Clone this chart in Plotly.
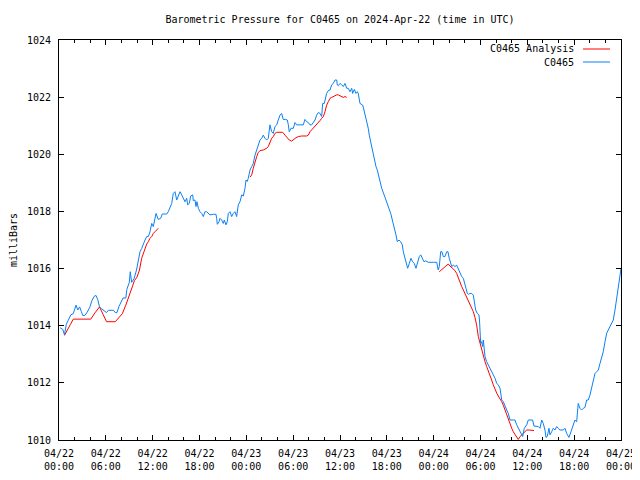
import pandas as pd
import plotly.graph_objects as go

# ---- data (hours since 2024-04-22 00:00 UTC, pressure in mb) ----
obs_hours = [0.13, 0.49, 0.70, 0.94, 1.15, 1.51, 1.83, 2.05, 2.18, 2.41, 2.64, 2.86, 3.04, 3.31, 3.63, 3.97,
             4.20, 4.52, 4.74, 4.97, 5.19, 5.42, 5.76, 6.09, 6.32, 6.98, 7.21, 7.43, 7.66, 7.97, 8.20, 8.56,
             8.69, 9.01, 9.13, 9.31, 9.61, 9.93, 10.18, 10.38, 10.59, 10.80, 11.02, 11.24, 11.44, 11.66, 11.88,
             12.08, 12.30, 12.43, 12.72, 13.03, 13.23, 13.80, 14.00, 14.22, 14.44, 14.64, 14.86, 15.08, 15.28,
             15.50, 15.72, 15.92, 16.14, 16.36, 16.49, 16.69, 16.87, 17.13, 17.20, 17.42, 17.55, 17.68, 17.85,
             18.06, 18.28, 18.49, 18.70, 18.92, 19.13, 19.34, 19.77, 20.11, 20.20, 20.28, 20.50, 20.63, 20.84,
             21.05, 21.18, 21.39, 21.56, 21.69, 21.91, 22.12, 22.33, 22.55, 22.76, 22.97, 23.19, 23.41, 23.61,
             23.83, 23.96, 24.12, 24.25, 24.47, 24.69, 24.89, 25.11, 25.33, 25.53, 25.75, 25.97, 26.17, 26.39,
             26.61, 26.81, 27.03, 27.25, 27.45, 27.67, 27.89, 28.09, 28.31, 28.53, 28.73, 28.99, 29.25, 29.38,
             29.50, 29.72, 30.02, 30.23, 30.45, 30.87, 31.30, 31.51, 31.73, 31.94, 32.16, 32.37, 32.58, 32.80,
             33.01, 33.22, 33.44, 33.65, 33.78, 33.99, 34.29, 34.50, 34.72, 34.93, 35.14, 35.36, 35.58, 35.65,
             35.78, 36.00, 36.22, 36.42, 36.64, 36.86, 37.06, 37.28, 37.50, 37.62, 37.83, 38.05, 38.22, 38.34,
             38.56, 38.91, 39.07, 39.29, 39.42, 39.62, 39.75, 39.93, 40.06, 40.26, 40.39, 40.61, 40.78, 40.99,
             41.12, 41.34, 41.76, 42.15, 42.53, 42.79, 43.04, 43.17, 43.34, 43.56, 43.77, 43.98, 44.11, 44.33,
             44.54, 44.67, 44.88, 45.09, 45.31, 45.52, 45.73, 45.95, 46.16, 46.34, 46.54, 46.76, 46.98, 47.31,
             47.95, 48.39, 48.59, 48.72, 48.90, 49.06, 49.23, 49.45, 49.67, 49.83, 50.00, 50.18, 50.31, 50.51,
             50.73, 50.95, 51.15, 51.37, 51.59, 51.80, 51.92, 52.14, 52.31, 52.44, 52.65, 52.87, 53.08, 53.20,
             53.38, 53.59, 53.80, 53.87, 53.93, 54.02, 54.15, 54.28, 54.36, 54.45, 54.58, 54.79, 55.00, 55.21,
             55.43, 55.64, 55.86, 56.08, 56.28, 56.50, 56.72, 56.92, 57.14, 57.36, 57.56, 57.78, 58.20, 58.42,
             58.64, 58.84, 59.06, 59.28, 59.40, 59.61, 59.92, 60.12, 60.68, 60.85, 61.11, 61.40, 61.62, 61.84,
             62.04, 62.26, 62.39, 62.55, 62.77, 62.90, 63.12, 63.32, 63.54, 63.76, 63.96, 64.18, 64.60, 64.82,
             65.04, 65.33, 65.59, 65.89, 66.10, 66.32, 66.52, 66.74, 66.96, 67.17, 67.38, 67.60, 67.81, 68.02,
             68.24, 68.45, 68.67, 68.89, 69.09, 69.31, 69.53, 69.73, 69.95, 70.17, 70.37, 70.59, 70.80, 71.01,
             71.23, 71.49, 71.75, 72.00]
obs_mb = [1013.93, 1013.87, 1013.68, 1014.05, 1014.17, 1014.38, 1014.42, 1014.60, 1014.72, 1014.55, 1014.66,
          1014.50, 1014.36, 1014.36, 1014.48, 1014.66, 1014.87, 1015.03, 1015.06, 1014.91, 1014.66, 1014.60,
          1014.54, 1014.46, 1014.54, 1014.54, 1014.46, 1014.46, 1014.66, 1014.85, 1014.97, 1014.97, 1015.27,
          1015.52, 1015.89, 1015.52, 1015.64, 1015.95, 1016.25, 1016.59, 1016.70, 1016.88, 1017.00, 1017.12,
          1017.12, 1017.29, 1017.58, 1017.47, 1017.72, 1017.93, 1017.72, 1017.76, 1017.91, 1017.91, 1017.99,
          1018.17, 1018.28, 1018.63, 1018.69, 1018.40, 1018.58, 1018.69, 1018.58, 1018.46, 1018.34, 1018.46,
          1018.23, 1018.28, 1018.54, 1018.58, 1018.38, 1018.40, 1018.17, 1018.34, 1018.11, 1017.99, 1017.93,
          1017.82, 1017.99, 1017.99, 1017.93, 1017.88, 1017.90, 1017.90, 1017.76, 1017.55, 1017.64, 1017.76,
          1017.70, 1017.58, 1017.70, 1017.53, 1017.64, 1017.93, 1017.99, 1017.82, 1017.93, 1017.99, 1017.82,
          1018.23, 1018.34, 1018.58, 1018.54, 1018.81, 1019.10, 1019.05, 1019.16, 1019.45, 1019.57, 1019.68,
          1019.97, 1020.15, 1020.27, 1020.50, 1020.56, 1020.67, 1020.56, 1020.50, 1020.56, 1021.03, 1020.79,
          1020.73, 1020.97, 1021.03, 1021.20, 1021.37, 1021.43, 1021.22, 1021.22, 1021.20, 1021.03, 1020.79,
          1020.91, 1020.91, 1021.11, 1021.03, 1021.03, 1021.03, 1021.22, 1021.14, 1021.11, 1021.03, 1021.03,
          1021.14, 1021.20, 1021.37, 1021.46, 1021.43, 1021.32, 1021.78, 1021.78, 1022.13, 1022.23, 1022.25,
          1022.43, 1022.48, 1022.60, 1022.60, 1022.43, 1022.40, 1022.48, 1022.43, 1022.37, 1022.48, 1022.31,
          1022.31, 1022.19, 1022.31, 1022.13, 1022.27, 1022.13, 1022.19, 1022.13, 1021.78, 1021.72, 1021.55,
          1021.32, 1021.14, 1020.91, 1020.67, 1020.44, 1020.27, 1020.03, 1019.80, 1019.57, 1019.45, 1019.22,
          1018.98, 1018.81, 1018.50, 1018.20, 1017.90, 1017.60, 1017.35, 1017.18, 1016.94, 1017.00, 1016.94,
          1016.83, 1016.59, 1016.36, 1016.12, 1016.01, 1016.18, 1016.36, 1016.24, 1016.18, 1016.01, 1016.24,
          1016.42, 1016.48, 1016.36, 1016.24, 1016.27, 1016.22, 1016.22, 1016.22, 1015.95, 1016.07, 1016.59,
          1016.59, 1016.42, 1016.42, 1016.59, 1016.59, 1016.36, 1016.18, 1016.07, 1016.12, 1016.07, 1016.12,
          1016.01, 1015.83, 1015.72, 1015.66, 1015.49, 1015.31, 1015.13, 1015.10, 1015.13, 1015.13, 1015.07,
          1014.90, 1014.55, 1014.43, 1014.38, 1014.20, 1013.85, 1013.38, 1013.44, 1013.27, 1013.50, 1013.15,
          1012.92, 1012.74, 1012.63, 1012.51, 1012.39, 1012.33, 1012.16, 1011.98, 1011.93, 1011.81, 1011.40,
          1011.34, 1011.17, 1011.05, 1010.93, 1010.70, 1010.70, 1010.70, 1010.53, 1010.41, 1010.29, 1010.18,
          1010.12, 1010.41, 1010.53, 1010.70, 1010.70, 1010.49, 1010.47, 1010.47, 1010.41, 1010.70, 1010.58,
          1010.35, 1010.09, 1010.12, 1010.41, 1010.18, 1010.29, 1010.41, 1010.35, 1010.47, 1010.41, 1010.35,
          1010.35, 1010.41, 1010.23, 1010.09, 1010.29, 1010.53, 1010.70, 1010.64, 1011.28, 1011.11, 1011.05,
          1011.11, 1011.14, 1011.40, 1011.40, 1011.57, 1011.87, 1012.04, 1012.33, 1012.39, 1012.45, 1012.68,
          1012.92, 1013.09, 1013.44, 1013.74, 1013.85, 1013.97, 1014.08, 1014.20, 1014.55, 1015.07, 1015.60,
          1016.00]

ana1_hours = [0.70, 0.90, 1.15, 1.47, 1.83, 2.28, 4.07, 4.61, 5.19, 5.64, 6.09, 7.21, 7.69, 8.11, 8.56,
              9.01, 9.31, 9.67, 9.99, 10.31, 10.59, 10.80, 11.02, 11.24, 11.44, 11.66, 11.88, 12.08, 12.30,
              12.52, 12.72]
ana1_mb = [1013.66, 1013.75, 1013.87, 1014.05, 1014.23, 1014.23, 1014.23, 1014.45, 1014.66, 1014.40, 1014.14,
           1014.14, 1014.28, 1014.42, 1014.72, 1015.09, 1015.34, 1015.58, 1015.70, 1015.95, 1016.36, 1016.53,
           1016.71, 1016.86, 1016.94, 1017.06, 1017.12, 1017.23, 1017.29, 1017.35, 1017.41]

ana2_hours = [24.47, 24.69, 24.89, 25.11, 25.33, 25.53, 25.75, 26.17, 26.61, 26.81, 27.03, 27.25, 27.45,
              27.67, 27.89, 28.66, 28.95, 29.25, 29.50, 29.81, 30.02, 30.36, 30.66, 31.09, 31.73, 31.94,
              32.16, 32.37, 32.58, 32.80, 33.01, 33.22, 33.44, 33.65, 33.86, 34.08, 34.29, 34.50, 34.72,
              34.93, 35.14, 35.58, 35.78, 36.00, 36.22, 36.42, 36.64, 36.86]
ana2_mb = [1019.20, 1019.28, 1019.51, 1019.74, 1019.92, 1020.06, 1020.13, 1020.15, 1020.21, 1020.27, 1020.44,
           1020.56, 1020.62, 1020.73, 1020.77, 1020.77, 1020.67, 1020.56, 1020.50, 1020.46, 1020.52, 1020.58,
           1020.62, 1020.64, 1020.64, 1020.67, 1020.79, 1020.85, 1020.91, 1020.99, 1021.06, 1021.11, 1021.18,
           1021.26, 1021.32, 1021.49, 1021.72, 1021.84, 1021.96, 1021.99, 1022.02, 1022.08, 1022.08, 1022.04,
           1022.02, 1021.99, 1022.02, 1021.99]

ana3_hours = [48.72, 49.03, 49.45, 49.67, 49.87, 50.09, 50.31, 50.51, 50.73, 50.95, 51.15, 51.37, 51.59,
              51.80, 52.01, 52.23, 52.44, 52.65, 52.87, 53.08, 53.29, 53.51, 53.72, 53.93, 54.15, 54.36,
              54.58, 54.79, 55.00, 55.21, 55.43, 55.64, 55.86, 56.08, 56.28, 56.50, 56.72, 56.92, 57.14,
              57.36, 57.56, 57.78, 58.00, 58.20, 58.42, 58.64, 58.84, 59.06, 59.28, 59.48, 59.70, 59.92,
              60.25, 60.56, 60.85]
ana3_mb = [1015.89, 1015.97, 1016.07, 1016.12, 1016.16, 1016.09, 1016.04, 1016.01, 1015.93, 1015.83, 1015.66,
           1015.49, 1015.37, 1015.25, 1015.13, 1015.02, 1014.90, 1014.78, 1014.61, 1014.49, 1014.29, 1014.02,
           1013.62, 1013.38, 1013.21, 1012.97, 1012.74, 1012.57, 1012.39, 1012.22, 1012.10, 1011.93, 1011.75,
           1011.64, 1011.54, 1011.46, 1011.34, 1011.22, 1011.05, 1010.88, 1010.70, 1010.53, 1010.41, 1010.29,
           1010.18, 1010.09, 1010.02, 1010.12, 1010.18, 1010.23, 1010.29, 1010.35, 1010.35, 1010.33, 1010.33]

start_time = "2024-04-22 00:00"
end_time = "2024-04-25 00:00"
series_names = ["C0465 Analysis", "C0465"]
title_text = "Barometric Pressure for C0465 on 2024-Apr-22 (time in UTC)"
y_title = "milliBars"

# ---- build ----
base = pd.Timestamp(start_time)


def to_times(hours):
    return [base + pd.to_timedelta(h, unit="h") for h in hours]


ana_x, ana_y = [], []
for hs, vs in [(ana1_hours, ana1_mb), (ana2_hours, ana2_mb), (ana3_hours, ana3_mb)]:
    if ana_x:
        ana_x.append(None)
        ana_y.append(None)
    ana_x += to_times(hs)
    ana_y += vs

RED = "#ff0000"
BLUE = "#0a80f5"
FONT = "DejaVu Sans Mono"

# the page body has an 8px margin, so the figure is drawn at (8, 8)
W, HGT = 632, 464

fig = go.Figure()
fig.add_trace(go.Scatter(x=ana_x, y=ana_y, mode="lines", name=series_names[0],
                         line=dict(color=RED, width=1), connectgaps=False, showlegend=False))
fig.add_trace(go.Scatter(x=to_times(obs_hours), y=obs_mb, mode="lines", name=series_names[1],
                         line=dict(color=BLUE, width=1), showlegend=False))

H = 3600 * 1000
fig.update_layout(
    width=W, height=HGT,
    margin=dict(l=51, r=19, t=32, b=HGT - 432, autoexpand=False),
    paper_bgcolor="white", plot_bgcolor="white",
    font=dict(family=FONT, size=10, color="black"),
    title=dict(text=title_text, x=0.5, xref="paper", xanchor="center",
               y=1 - 11 / HGT, yanchor="middle", font=dict(family=FONT, size=10, color="black")),
    showlegend=False,
)
fig.update_xaxes(
    type="date", range=[start_time, end_time], automargin=False,
    tickmode="linear", tick0=start_time, dtick=6 * H, tickformat="%m/%d<br>%H:%M",
    ticks="inside", ticklen=5, tickcolor="black", tickwidth=1,
    minor=dict(tickmode="linear", tick0=start_time, dtick=2 * H, ticks="inside", ticklen=3,
               tickcolor="black", tickwidth=1, showgrid=False),
    showline=True, linecolor="black", linewidth=1, mirror="ticks",
    showgrid=False, zeroline=False, tickfont=dict(family=FONT, size=10, color="black"),
    ticklabelstandoff=4,
)
fig.update_yaxes(
    range=[1010, 1024], tickmode="linear", tick0=1010, dtick=2, automargin=False,
    ticks="inside", ticklen=5, tickcolor="black", tickwidth=1,
    showline=True, linecolor="black", linewidth=1, mirror="ticks",
    showgrid=False, zeroline=False, tickfont=dict(family=FONT, size=10, color="black"),
    ticklabelstandoff=5,
    title=dict(text=y_title, standoff=15, font=dict(family=FONT, size=10, color="black")),
)

# legend drawn gnuplot-style: text right-aligned, sample line on the right
leg_rows = [(series_names[0], RED, 1 - 9 / 400), (series_names[1], BLUE, 1 - 22 / 400)]
for name, color, yy in leg_rows:
    fig.add_annotation(text=name, xref="paper", yref="paper", x=(576 - 59) / 562, y=yy,
                       xanchor="right", yanchor="middle", showarrow=False,
                       font=dict(family=FONT, size=10, color="black"))
    fig.add_shape(type="line", xref="paper", yref="paper",
                  x0=(583 - 59) / 562, x1=(610 - 59) / 562, y0=yy, y1=yy,
                  line=dict(color=color, width=1))

fig.write_html("out.html")
